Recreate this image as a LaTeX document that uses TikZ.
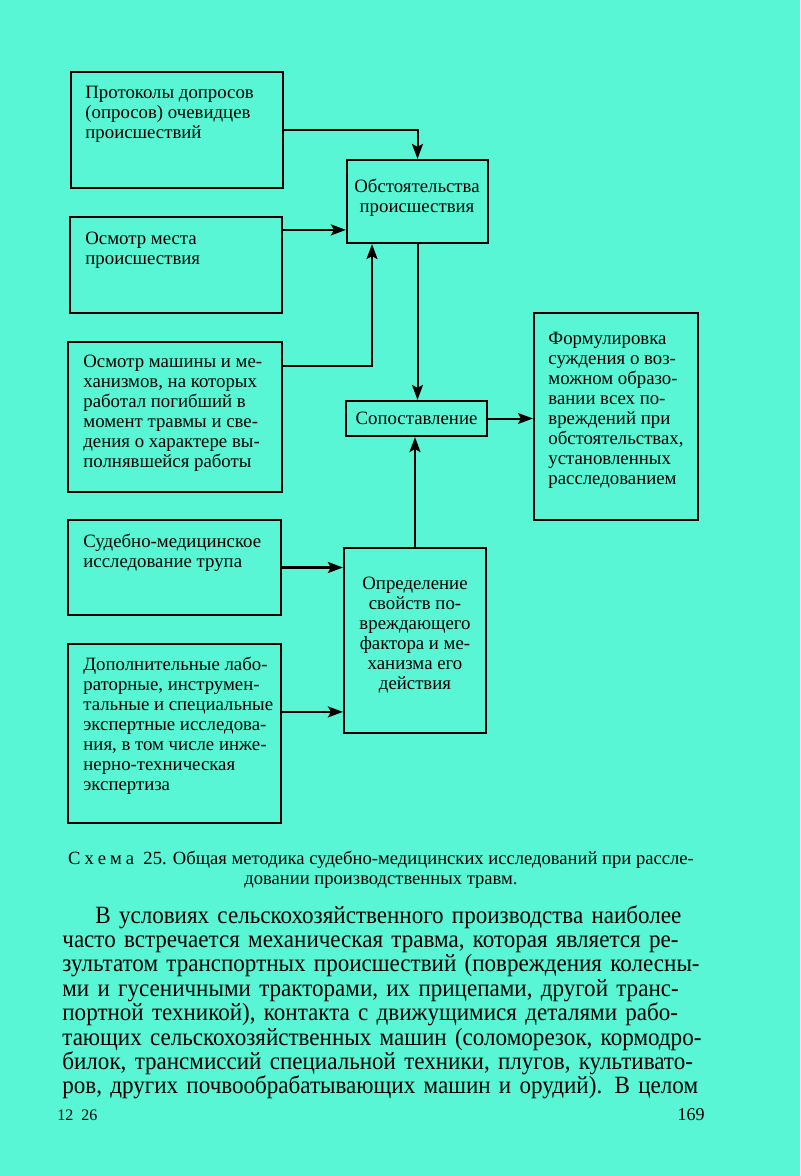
\documentclass[tikz,border=0pt]{standalone}
\usepackage{fontspec}
\setmainfont{Liberation Serif}
\newfontfamily\bodyfont[FakeStretch=0.93]{Liberation Serif}
\usetikzlibrary{arrows.meta}
\definecolor{bgc}{RGB}{88,246,212}
\tikzset{
  box/.style={draw=black, line width=1.1pt, rectangle, inner sep=0pt},
  txt/.style={inner sep=0pt, align=left, font=\fontsize{9.4}{10}\selectfont},
  ctxt/.style={inner sep=0pt, align=center, font=\fontsize{9.4}{10}\selectfont},
  arr/.style={line width=1pt, -{Stealth[length=7.5pt,width=5.5pt,inset=1.5pt]}}
}
\newcommand{\bline}[1]{\makebox[329pt][s]{#1}}
\begin{document}
\begin{tikzpicture}[x=0.5pt,y=-0.5pt]
\fill[bgc] (0,0) rectangle (800,1176);
\useasboundingbox (0,0) rectangle (800,1176);
% boxes
\node[box, minimum width=106pt, minimum height=58pt] (B1) at (177,130) {};
\node[box, minimum width=70.5pt, minimum height=41.5pt] (B2) at (417.5,201.5) {};
\node[box, minimum width=106pt, minimum height=48pt] (B3) at (176,265) {};
\node[box, minimum width=107pt, minimum height=75pt] (B4) at (175,417) {};
\node[box, minimum width=70.5pt, minimum height=17.5pt, font=\fontsize{9.4}{10}\selectfont] (B5) at (416.5,418.5) {Сопоставление};
\node[box, minimum width=82pt, minimum height=103.5pt] (B6) at (616,416.5) {};
\node[box, minimum width=106.5pt, minimum height=47.5pt] (B7) at (174.5,567.5) {};
\node[box, minimum width=71pt, minimum height=92.5pt] (B8) at (415,640.5) {};
\node[box, minimum width=106.5pt, minimum height=89.5pt] (B9) at (174.5,733.5) {};
% texts
\node[txt, anchor=north west] (T1) at (85,86) {Протоколы допросов\\(опросов) очевидцев\\происшествий};
\node[ctxt, anchor=north] (T2) at (417,179) {Обстоятельства\\происшествия};
\node[txt, anchor=north west] (T3) at (85,232) {Осмотр места\\происшествия};
\node[txt, anchor=north west] (T4) at (83,355) {Осмотр машины и ме-\\ханизмов, на которых\\работал погибший в\\момент травмы и све-\\дения о характере вы-\\полнявшейся работы};
\node[txt, anchor=north west] (T6) at (548,332) {Формулировка\\суждения о воз-\\можном образо-\\вании всех по-\\вреждений при\\обстоятельствах,\\установленных\\расследованием};
\node[txt, anchor=north west] (T7) at (83,534) {Судебно-медицинское\\исследование трупа};
\node[ctxt, anchor=north] (T8) at (415,577) {Определение\\свойств по-\\вреждающего\\фактора и ме-\\ханизма его\\действия};
\node[txt, anchor=north west] (T9) at (83,657) {Дополнительные лабо-\\раторные, инструмен-\\тальные и специальные\\экспертные исследова-\\ния, в том числе инже-\\нерно-техническая\\экспертиза};
% connectors
\draw[arr] (B1.east) -| (B2.north);
\draw[arr] ([yshift=-7pt]B3.north east) coordinate (s3) -- (s3 -| B2.west);
\draw[arr] ([yshift=-12.5pt]B4.north east) -| ([xshift=-22.75pt]B2.south);
\draw[arr] (B2.south) -- (B2.south |- B5.north);
\draw[arr] (B5.east) -- (B5.east -| B6.west);
\draw[arr] (B8.north) -- (B8.north |- B5.south);
\draw[arr, line width=1.3pt] (B7.east) -- (B7.east -| B8.west);
\draw[arr] ([yshift=-34.5pt]B9.north east) coordinate (s9) -- (s9 -| B8.west);
% caption
\node[inner sep=0pt, align=center, font=\fontsize{9.3}{10}\selectfont, anchor=north] (cap) at (381,851)
 {С\kern2pt х\kern2pt е\kern2pt м\kern2pt а\ \ 25. Общая методика судебно-медицинских исследований при рассле-\\довании производственных травм.};
% body text
\node[inner sep=0pt, text width=329pt, align=left, font=\bodyfont\fontsize{12.4}{12.2}\selectfont, anchor=north west] (body) at (62,905)
 {\bline{\hspace*{16.5pt}В условиях сельскохозяйственного производства наиболее}\\
 \bline{часто встречается механическая травма, которая является ре-}\\
 \bline{зультатом транспортных происшествий (повреждения колесны-}\\
 \bline{ми и гусеничными тракторами, их прицепами, другой транс-}\\
 \bline{портной техникой), контакта с движущимися деталями рабо-}\\
 \bline{тающих сельскохозяйственных машин (соломорезок, кормодро-}\\
 \bline{билок, трансмиссий специальной техники, плугов, культивато-}\\
 \bline{ров, других почвообрабатывающих машин и орудий). В целом}};
% footer
\node[inner sep=0pt, anchor=west, font=\fontsize{8}{9}\selectfont] (f1) at (57,1115) {12\ \ 26};
\node[inner sep=0pt, anchor=east, font=\fontsize{9}{10}\selectfont] (f2) at (705,1115) {169};
\end{tikzpicture}
\end{document}
